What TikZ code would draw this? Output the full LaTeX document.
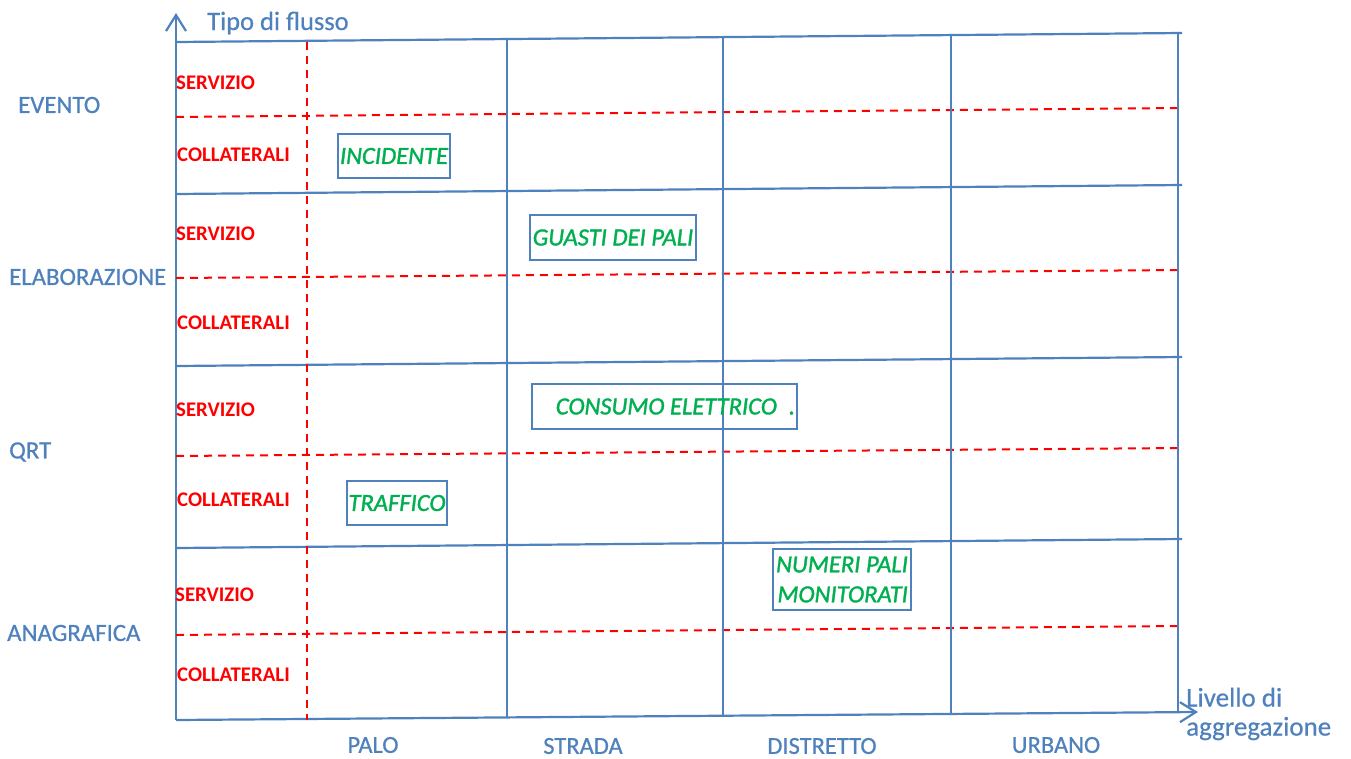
\documentclass[tikz,border=0pt]{standalone}
\usepackage{fontspec}
\setmainfont{Carlito}
\usetikzlibrary{arrows.meta}
\definecolor{gridblue}{RGB}{79,129,189}
\definecolor{datagreen}{RGB}{0,176,80}

\begin{document}
\begin{tikzpicture}[x=1pt,y=-1pt,>={Straight Barb[length=16pt,width=20pt]},
  grid line/.style={draw=gridblue,line width=2.2pt},
  split line/.style={draw=red,line width=2pt,dash pattern=on 8pt off 6pt},
  flow node/.style={font=\fontsize{24.8}{28}\selectfont\addfontfeature{FakeBold=0.7},
  text=gridblue,inner sep=0pt,anchor=west},
  part node/.style={font=\fontsize{20.8}{24}\selectfont\bfseries,text=red,
  inner sep=0pt,anchor=west},
  level node/.style={font=\fontsize{24.5}{28}\selectfont\addfontfeature{FakeBold=0.7},
  text=gridblue,inner sep=0pt},
  data node/.style={draw=gridblue,line width=1.2pt,text=datagreen,
  font=\fontsize{24.6}{30}\selectfont\itshape\addfontfeature{FakeBold=1.4},inner sep=0pt}]

  \useasboundingbox (0,0) rectangle (1351,758);

  % axes
  \draw[grid line,->] (176,720) -- (176,13);
  \draw[grid line,->] (176,720) -- (1198,712);
  \node[flow node,anchor=base west,font=\fontsize{26.5}{30}\selectfont\addfontfeature{FakeBold=0.5}] (tipo) at (207,30) {Tipo di flusso};
  \node[flow node,align=left,font=\fontsize{27}{29}\selectfont\addfontfeature{FakeBold=0.5}] (livello) at (1186,714) {Livello di\\aggregazione};

  % rows
  \draw[grid line] (176,42) -- (1182,33);
  \draw[grid line] (176,194) -- (1182,185);
  \draw[grid line] (176,366) -- (1182,357);
  \draw[grid line] (176,548) -- (1182,539);
  \draw[split line] (176,117) -- (1180,108);
  \draw[split line] (176,278) -- (1180,270);
  \draw[split line] (176,456) -- (1180,448);
  \draw[split line] (176,635) -- (1180,626);

  % columns
  \draw[split line] (307,42) -- (307,720);
  \draw[grid line] (507,39) -- (507,718);
  \draw[grid line] (723,37) -- (723,716);
  \draw[grid line] (951,35) -- (951,714);
  \draw[grid line] (1178,33) -- (1178,712);

  \node[flow node] (evento) at (18,105) {EVENTO};
  \node[flow node] (elaborazione) at (9,277) {ELABORAZIONE};
  \node[flow node] (qrt) at (9,452) {QRT};
  \node[flow node] (anagrafica) at (7,633) {ANAGRAFICA};

  \node[part node] (servizioA) at (176,83) {SERVIZIO};
  \node[part node] (collateraliA) at (177,155) {COLLATERALI};
  \node[part node] (servizioB) at (176,234) {SERVIZIO};
  \node[part node] (collateraliB) at (177,323) {COLLATERALI};
  \node[part node] (servizioC) at (176,410) {SERVIZIO};
  \node[part node] (collateraliC) at (177,500) {COLLATERALI};
  \node[part node] (servizioD) at (175,595) {SERVIZIO};
  \node[part node] (collateraliD) at (177,675) {COLLATERALI};

  \node[level node] (palo) at (373,745) {PALO};
  \node[level node] (strada) at (583,746) {STRADA};
  \node[level node] (distretto) at (822,746) {DISTRETTO};
  \node[level node] (urbano) at (1056,745) {URBANO};

  \node[data node,minimum width=112pt,minimum height=44pt] (incidente) at (394,156) {INCIDENTE};
  \node[data node,minimum width=166pt,minimum height=45pt] (guasti) at (613,237.5) {GUASTI DEI PALI};
  \node[data node,minimum width=265pt,minimum height=45pt] (consumo) at (664.5,406.5)
    {\hspace*{22pt}CONSUMO ELETTRICO\hspace{12pt}.};
  \node[data node,minimum width=100pt,minimum height=44pt] (traffico) at (397,503) {TRAFFICO};
  \node[data node,minimum width=138pt,minimum height=61pt,align=right] (numeri) at (842,579.5)
    {NUMERI PALI\\MONITORATI};
\end{tikzpicture}
\end{document}
